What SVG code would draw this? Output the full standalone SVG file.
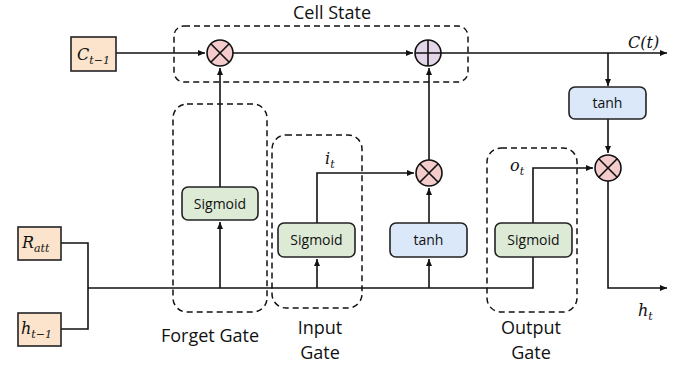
<svg xmlns="http://www.w3.org/2000/svg" width="689" height="366" viewBox="0 0 689 366">
<style>
.ln{fill:none;stroke:#111;stroke-width:1.6}
.dash{fill:none;stroke:#111;stroke-width:1.5;stroke-dasharray:6,4}
.inp{fill:#FCE4CC;stroke:#222;stroke-width:1.6}
.sig{fill:#DCEAD6;stroke:#222;stroke-width:1.6}
.tanh{fill:#DAE8FA;stroke:#222;stroke-width:1.6}
.mul{fill:#F5CCCC;stroke:#111;stroke-width:1.6}
.add{fill:#E3D6E8;stroke:#111;stroke-width:1.6}
.t{font-family:"Open Sans","Liberation Sans",sans-serif;font-size:14px;fill:#111;text-anchor:middle}
.lbl{font-family:"Open Sans","Liberation Sans",sans-serif;font-size:18px;fill:#111;text-anchor:middle}
.m{font-family:"DejaVu Serif","Liberation Serif",serif;font-style:italic;font-size:16px;fill:#111}
.s{font-size:11px}
</style>
<defs>
<marker id="ar" markerWidth="8" markerHeight="8" refX="7" refY="4" orient="auto" markerUnits="userSpaceOnUse">
<path d="M0,1 L7,4 L0,7 z" fill="#111"/>
</marker>
</defs>

<g id="groups">
<rect id="cell-state-box" class="dash" x="174" y="26" width="294" height="56" rx="10"/>
<rect id="forget-gate-box" class="dash" x="173" y="104" width="94" height="208" rx="14"/>
<rect id="input-gate-box" class="dash" x="272" y="135" width="90" height="173" rx="14"/>
<rect id="output-gate-box" class="dash" x="487" y="148" width="90" height="164" rx="14"/>
</g>

<g id="connectors">
<path class="ln" d="M116,53 H205" marker-end="url(#ar)"/>
<path class="ln" d="M233,53 H413" marker-end="url(#ar)"/>
<path class="ln" d="M441,53 H667" marker-end="url(#ar)"/>
<path class="ln" d="M220,187 V68" marker-end="url(#ar)"/>
<path class="ln" d="M220,288 V222" marker-end="url(#ar)"/>
<path class="ln" d="M61,243 H88 V329 H61"/>
<path class="ln" d="M88,288 H533 V257"/>
<path class="ln" d="M317,288 V259" marker-end="url(#ar)"/>
<path class="ln" d="M429,288 V259" marker-end="url(#ar)"/>
<path class="ln" d="M317,223 V173 H414" marker-end="url(#ar)"/>
<path class="ln" d="M429,223 V188" marker-end="url(#ar)"/>
<path class="ln" d="M429,160 V68" marker-end="url(#ar)"/>
<path class="ln" d="M533,223 V168 H593" marker-end="url(#ar)"/>
<path class="ln" d="M608,53 V86" marker-end="url(#ar)"/>
<path class="ln" d="M608,119 V153" marker-end="url(#ar)"/>
<path class="ln" d="M608,181 V288 H667" marker-end="url(#ar)"/>
</g>

<g id="c-prev"><rect class="inp" x="71" y="37" width="45" height="34"/><text class="m" x="77" y="60">C<tspan class="s" dy="4">t−1</tspan></text></g>
<g id="r-att"><rect class="inp" x="18" y="227" width="43" height="33"/><text class="m" x="22" y="248">R<tspan class="s" dy="4">att</tspan></text></g>
<g id="h-prev"><rect class="inp" x="18" y="313" width="43" height="33"/><text class="m" x="21" y="334">h<tspan class="s" dy="4">t−1</tspan></text></g>

<g id="forget-mul"><circle class="mul" cx="220" cy="53" r="13"/><path class="ln" d="M210.8,43.8 L229.2,62.2 M229.2,43.8 L210.8,62.2"/></g>
<g id="cell-add"><circle class="add" cx="428" cy="53" r="13"/><path class="ln" d="M428,40 V66 M415,53 H441"/></g>
<g id="input-mul"><circle class="mul" cx="429" cy="173" r="13"/><path class="ln" d="M419.8,163.8 L438.2,182.2 M438.2,163.8 L419.8,182.2"/></g>
<g id="output-mul"><circle class="mul" cx="608" cy="168" r="13"/><path class="ln" d="M598.8,158.8 L617.2,177.2 M617.2,158.8 L598.8,177.2"/></g>

<g id="forget-sigmoid"><rect class="sig" x="182" y="187" width="76" height="33" rx="6"/><text class="t" x="220" y="208.5">Sigmoid</text></g>
<g id="input-sigmoid"><rect class="sig" x="278" y="223" width="77" height="34" rx="6"/><text class="t" x="316.5" y="245">Sigmoid</text></g>
<g id="input-tanh"><rect class="tanh" x="390" y="223" width="77" height="34" rx="6"/><text class="t" x="428.5" y="245">tanh</text></g>
<g id="output-sigmoid"><rect class="sig" x="495" y="223" width="77" height="34" rx="6"/><text class="t" x="533.5" y="245">Sigmoid</text></g>
<g id="out-tanh"><rect class="tanh" x="569" y="87" width="77" height="32" rx="6"/><text class="t" x="607.5" y="108">tanh</text></g>

<g id="labels">
<text class="lbl" x="332" y="19">Cell State</text>
<text class="lbl" x="210" y="342">Forget Gate</text>
<text class="lbl" x="320" y="334">Input</text>
<text class="lbl" x="320" y="359">Gate</text>
<text class="lbl" x="531" y="334">Output</text>
<text class="lbl" x="531" y="359">Gate</text>
<text class="m" x="325" y="164">i<tspan class="s" dy="4">t</tspan></text>
<text class="m" x="510" y="171">o<tspan class="s" dy="4">t</tspan></text>
<text class="m" x="628" y="48">C(t)</text>
<text class="m" x="638" y="316">h<tspan class="s" dy="4">t</tspan></text>
</g>
</svg>
